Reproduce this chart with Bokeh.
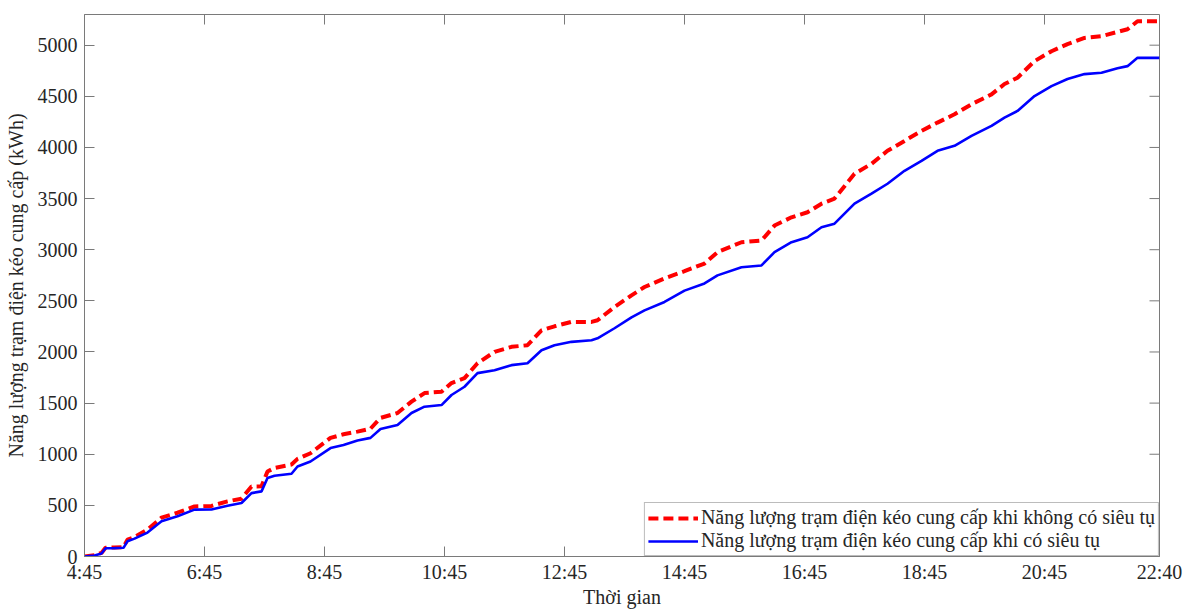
import math
from bokeh.plotting import figure
from bokeh.models import Range1d, FixedTicker, Legend, LegendItem
from bokeh.embed import file_html
from bokeh.resources import INLINE

# ---- data ----
times = ["4:45", "4:55", "5:02", "5:06", "5:15", "5:24", "5:28", "5:35", "5:48", "6:02",
         "6:18", "6:35", "6:52", "7:08", "7:22", "7:32", "7:42", "7:48", "7:55", "8:12",
         "8:18", "8:31", "8:51", "9:04", "9:18", "9:31", "9:41", "9:58", "10:12", "10:25",
         "10:42", "10:52", "11:05", "11:18", "11:35", "11:52", "12:08", "12:22", "12:35", "12:52",
         "13:12", "13:18", "13:35", "13:52", "14:05", "14:25", "14:45", "15:05", "15:18", "15:42",
         "16:02", "16:15", "16:32", "16:48", "17:02", "17:15", "17:35", "17:52", "18:08", "18:25",
         "18:42", "18:58", "19:15", "19:32", "19:52", "20:05", "20:18", "20:35", "20:52", "21:08",
         "21:25", "21:42", "21:58", "22:08", "22:18", "22:40"]

without_sc = [0, 12, 35, 85, 88, 92, 165, 190, 263, 380,
              428, 490, 495, 539, 565, 685, 686, 831, 866, 900,
              955, 1010, 1160, 1195, 1221, 1250, 1355, 1403, 1514, 1598,
              1611, 1696, 1744, 1890, 2001, 2050, 2066, 2212, 2251, 2294,
              2294, 2310, 2440, 2554, 2635, 2719, 2790, 2865, 2976, 3073,
              3090, 3236, 3317, 3366, 3450, 3500, 3743, 3840, 3967, 4064,
              4162, 4243, 4324, 4422, 4519, 4620, 4682, 4844, 4941, 5010,
              5071, 5088, 5130, 5156, 5234, 5234]

with_sc = [0, 10, 30, 80, 82, 85, 150, 175, 234, 344,
           393, 458, 460, 497, 523, 620, 637, 768, 790, 809,
           880, 929, 1060, 1090, 1134, 1160, 1247, 1286, 1403, 1465,
           1481, 1579, 1660, 1793, 1822, 1871, 1890, 2017, 2066, 2099,
           2115, 2134, 2232, 2339, 2407, 2489, 2600, 2670, 2749, 2829,
           2846, 2976, 3073, 3122, 3219, 3255, 3450, 3548, 3645, 3772,
           3869, 3967, 4016, 4113, 4211, 4292, 4357, 4503, 4600, 4669,
           4717, 4730, 4775, 4795, 4876, 4876]

x_tick_labels = ["4:45", "6:45", "8:45", "10:45", "12:45", "14:45", "16:45", "18:45", "20:45", "22:40"]
y_ticks = [0, 500, 1000, 1500, 2000, 2500, 3000, 3500, 4000, 4500, 5000]
y_max = 5300

label_red = "Năng lượng trạm điện kéo cung cấp khi không có siêu tụ"
label_blue = "Năng lượng trạm điện kéo cung cấp khi có siêu tụ"


def to_hours(s):
    h, m = s.split(":")
    return int(h) + int(m) / 60.0


x = [to_hours(t) for t in times]
x_ticks = [to_hours(t) for t in x_tick_labels]

FONT = "Liberation Serif"
AX = "#7a7a7a"
TXT = "#262626"

p = figure(width=1184, height=610, output_backend="svg", toolbar_location=None,
           x_range=Range1d(x_ticks[0], x_ticks[-1]), y_range=Range1d(0, y_max),
           min_border_left=84, min_border_right=25, min_border_top=14, min_border_bottom=53)
p.background_fill_color = "white"
p.border_fill_color = "white"
p.outline_line_color = AX
p.outline_line_width = 1
p.grid.visible = False

r_red = p.line(x, without_sc, line_color="#ff0000", line_width=4, line_dash="10 5")
r_blue = p.line(x, with_sc, line_color="#0000ff", line_width=2.6)

# inward tick marks on the top and right edges (box on)
p.ray(x=x_ticks, y=[y_max] * len(x_ticks), length=10, length_units="screen",
      angle=-math.pi / 2, line_color=AX, line_width=1)
p.ray(x=[x_ticks[-1]] * len(y_ticks), y=y_ticks, length=10, length_units="screen",
      angle=math.pi, line_color=AX, line_width=1)


def style_axis(ax):
    ax.axis_line_color = AX
    ax.major_tick_line_color = AX
    ax.major_tick_in = 10
    ax.major_tick_out = 0
    ax.minor_tick_line_color = None
    ax.major_label_text_font = FONT
    ax.major_label_text_color = TXT
    ax.major_label_text_font_size = "20px"
    ax.axis_label_text_font = FONT
    ax.axis_label_text_font_style = "normal"
    ax.axis_label_text_color = TXT
    ax.axis_label_text_font_size = "20px"


xa = p.xaxis[0]
xa.ticker = FixedTicker(ticks=x_ticks)
xa.major_label_overrides = {t: l for t, l in zip(x_ticks, x_tick_labels)}
xa.axis_label = "Thời gian"
style_axis(xa)
xa.major_label_standoff = 4
xa.axis_label_standoff = 0

ya = p.yaxis[0]
ya.ticker = FixedTicker(ticks=y_ticks)
ya.axis_label = "Năng lượng trạm điện kéo cung cấp (kWh)"
style_axis(ya)
ya.major_label_standoff = 7
ya.axis_label_standoff = 8

legend = Legend(items=[LegendItem(label=label_red, renderers=[r_red]),
                       LegendItem(label=label_blue, renderers=[r_blue])],
                location="bottom_right")
legend.margin = 0
legend.padding = 3
legend.spacing = 0
legend.label_standoff = 3
legend.glyph_width = 50
legend.glyph_height = 20
legend.label_height = 20
legend.label_text_font = FONT
legend.label_text_font_size = "20px"
legend.label_text_color = TXT
legend.label_text_line_height = 1.0
legend.border_line_color = AX
legend.border_line_width = 1
legend.background_fill_color = "white"
legend.background_fill_alpha = 1.0
p.add_layout(legend, "center")

open("out.html", "w").write(file_html(p, INLINE))
